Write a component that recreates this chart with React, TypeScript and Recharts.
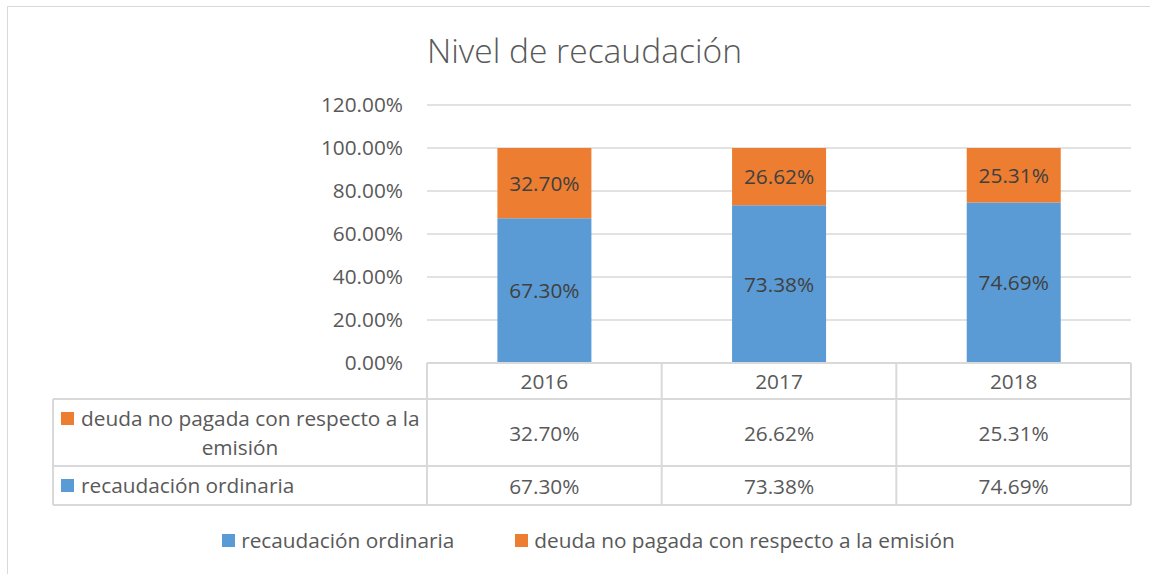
import React from 'react';
import { BarChart, Bar, XAxis, YAxis, CartesianGrid, LabelList, Legend } from 'recharts';

const categories = ['2016', '2017', '2018'];
const recaudacionOrdinaria = [67.3, 73.38, 74.69];
const deudaNoPagada = [32.7, 26.62, 25.31];
const yTicks = [0, 20, 40, 60, 80, 100, 120];
const seriesNames = ['recaudación ordinaria', 'deuda no pagada con respecto a la emisión'];
const seriesColors = ['#5B9BD5', '#ED7D31'];
const titleText = 'Nivel de recaudación';

const data = categories.map((c, i) => ({
  year: c,
  recaudacion: recaudacionOrdinaria[i],
  deuda: deudaNoPagada[i],
}));

const W = 1150;
const H = 574;
const M = { top: 105, right: 19, left: 0, bottom: 69 };
const Y_AXIS_W = 427;
const PLOT_L = M.left + Y_AXIS_W;
const PLOT_R = W - M.right;
const COL_W = (PLOT_R - PLOT_L) / categories.length;
const FONT = '"Open Sans", sans-serif';
const FS = 20.8;
const TXT = '#595959';
const LINE = '#D9D9D9';

const fmt = (v: number) => `${Number(v).toFixed(2)}%`;

const ROW1 = 36; // header row height
const ROW2 = 67;
const ROW3 = 39;
const TABLE_LEFT = 53;

const TableTick = (props: any) => {
  const { x, y, payload } = props;
  const i = payload.index;
  const top = y;
  const y1 = top + ROW1;
  const y2 = y1 + ROW2;
  const y3 = y2 + ROW3;
  const l = x - COL_W / 2;
  const r = x + COL_W / 2;
  return (
    <g>
      <line x1={l} x2={r} y1={top} y2={top} stroke={LINE} strokeWidth={2} />
      <line x1={l} x2={r} y1={y1} y2={y1} stroke={LINE} strokeWidth={2} />
      <line x1={l} x2={r} y1={y2} y2={y2} stroke={LINE} strokeWidth={2} />
      <line x1={l} x2={r} y1={y3} y2={y3} stroke={LINE} strokeWidth={2} />
      <line x1={r} x2={r} y1={top} y2={y3} stroke={LINE} strokeWidth={2} />
      {i === 0 && <line x1={l} x2={l} y1={top} y2={y3} stroke={LINE} strokeWidth={2} />}
      <text x={x} y={top + ROW1 / 2} textAnchor="middle" dominantBaseline="central" fill={TXT} fontSize={FS} fontFamily={FONT}>{payload.value}</text>
      <text x={x} y={y1 + ROW2 / 2} textAnchor="middle" dominantBaseline="central" fill={TXT} fontSize={FS} fontFamily={FONT}>{fmt(deudaNoPagada[i])}</text>
      <text x={x} y={y2 + ROW3 / 2} textAnchor="middle" dominantBaseline="central" fill={TXT} fontSize={FS} fontFamily={FONT}>{fmt(recaudacionOrdinaria[i])}</text>
      {i === 0 && (
        <g>
          <line x1={TABLE_LEFT} x2={l} y1={y1} y2={y1} stroke={LINE} strokeWidth={2} />
          <line x1={TABLE_LEFT} x2={l} y1={y2} y2={y2} stroke={LINE} strokeWidth={2} />
          <line x1={TABLE_LEFT} x2={l} y1={y3} y2={y3} stroke={LINE} strokeWidth={2} />
          <line x1={TABLE_LEFT} x2={TABLE_LEFT} y1={y1} y2={y3} stroke={LINE} strokeWidth={2} />
          <rect x={TABLE_LEFT + 8} y={y1 + 13} width={13} height={13} fill={seriesColors[1]} />
          <text x={TABLE_LEFT + 28} y={y1 + 19} dominantBaseline="central" fill={TXT} fontSize={FS} fontFamily={FONT}>deuda no pagada con respecto a la</text>
          <text x={(TABLE_LEFT + l) / 2} y={y1 + 48} textAnchor="middle" dominantBaseline="central" fill={TXT} fontSize={FS} fontFamily={FONT}>emisión</text>
          <rect x={TABLE_LEFT + 8} y={y2 + 13} width={13} height={13} fill={seriesColors[0]} />
          <text x={TABLE_LEFT + 28} y={y2 + 19} dominantBaseline="central" fill={TXT} fontSize={FS} fontFamily={FONT}>recaudación ordinaria</text>
        </g>
      )}
    </g>
  );
};

const LegendContent = () => (
  <div style={{ display: 'flex', justifyContent: 'center', alignItems: 'center', fontFamily: FONT, fontSize: FS, color: TXT, paddingLeft: 27 }}>
    {seriesNames.map((n, i) => (
      <div key={n} style={{ display: 'flex', alignItems: 'center', marginRight: i === 0 ? 61 : 0 }}>
        <span style={{ display: 'inline-block', width: 13, height: 13, background: seriesColors[i], marginRight: 6 }} />
        <span>{n}</span>
      </div>
    ))}
  </div>
);

export default function App() {
  return (
    <div style={{ position: 'absolute', left: 0, top: 0, width: W, height: H, background: '#fff' }}>
      <div style={{ position: 'absolute', left: 7, top: 6, width: W - 7, height: H - 6, borderTop: `1px solid ${LINE}`, borderLeft: `1px solid ${LINE}`, boxSizing: 'border-box' }} />
      <div style={{ position: 'absolute', left: 0, top: 29, width: 1169, textAlign: 'center', fontFamily: FONT, fontSize: 33.6, fontWeight: 300, color: TXT, lineHeight: '42px' }}>
        {titleText}
      </div>
      <div style={{ position: 'absolute', left: 0, top: 0 }}>
        <BarChart width={W} height={H} data={data} margin={M} barCategoryGap="30%">
          <CartesianGrid vertical={false} stroke={LINE} strokeWidth={1.5} />
          <YAxis
            width={Y_AXIS_W}
            domain={[0, 120]}
            ticks={yTicks}
            tickFormatter={fmt}
            axisLine={false}
            tickLine={false}
            tick={{ fill: TXT, fontSize: FS, fontFamily: FONT }}
            tickMargin={18}
          />
          <XAxis
            dataKey="year"
            height={142}
            axisLine={false}
            tickLine={false}
            tickSize={0}
            tickMargin={0}
            interval={0}
            tick={<TableTick />}
          />
          <Legend
            layout="horizontal"
            verticalAlign="middle"
            align="center"
            content={<LegendContent />}
            wrapperStyle={{ top: 526, left: 0, width: W }}
          />
          <Bar dataKey="recaudacion" stackId="a" fill={seriesColors[0]} name={seriesNames[0]} isAnimationActive={false}>
            <LabelList dataKey="recaudacion" position="center" formatter={fmt} fill="#404040" fontSize={FS} fontFamily={FONT} />
          </Bar>
          <Bar dataKey="deuda" stackId="a" fill={seriesColors[1]} name={seriesNames[1]} isAnimationActive={false}>
            <LabelList dataKey="deuda" position="center" formatter={fmt} fill="#404040" fontSize={FS} fontFamily={FONT} />
          </Bar>
        </BarChart>
      </div>
    </div>
  );
}
